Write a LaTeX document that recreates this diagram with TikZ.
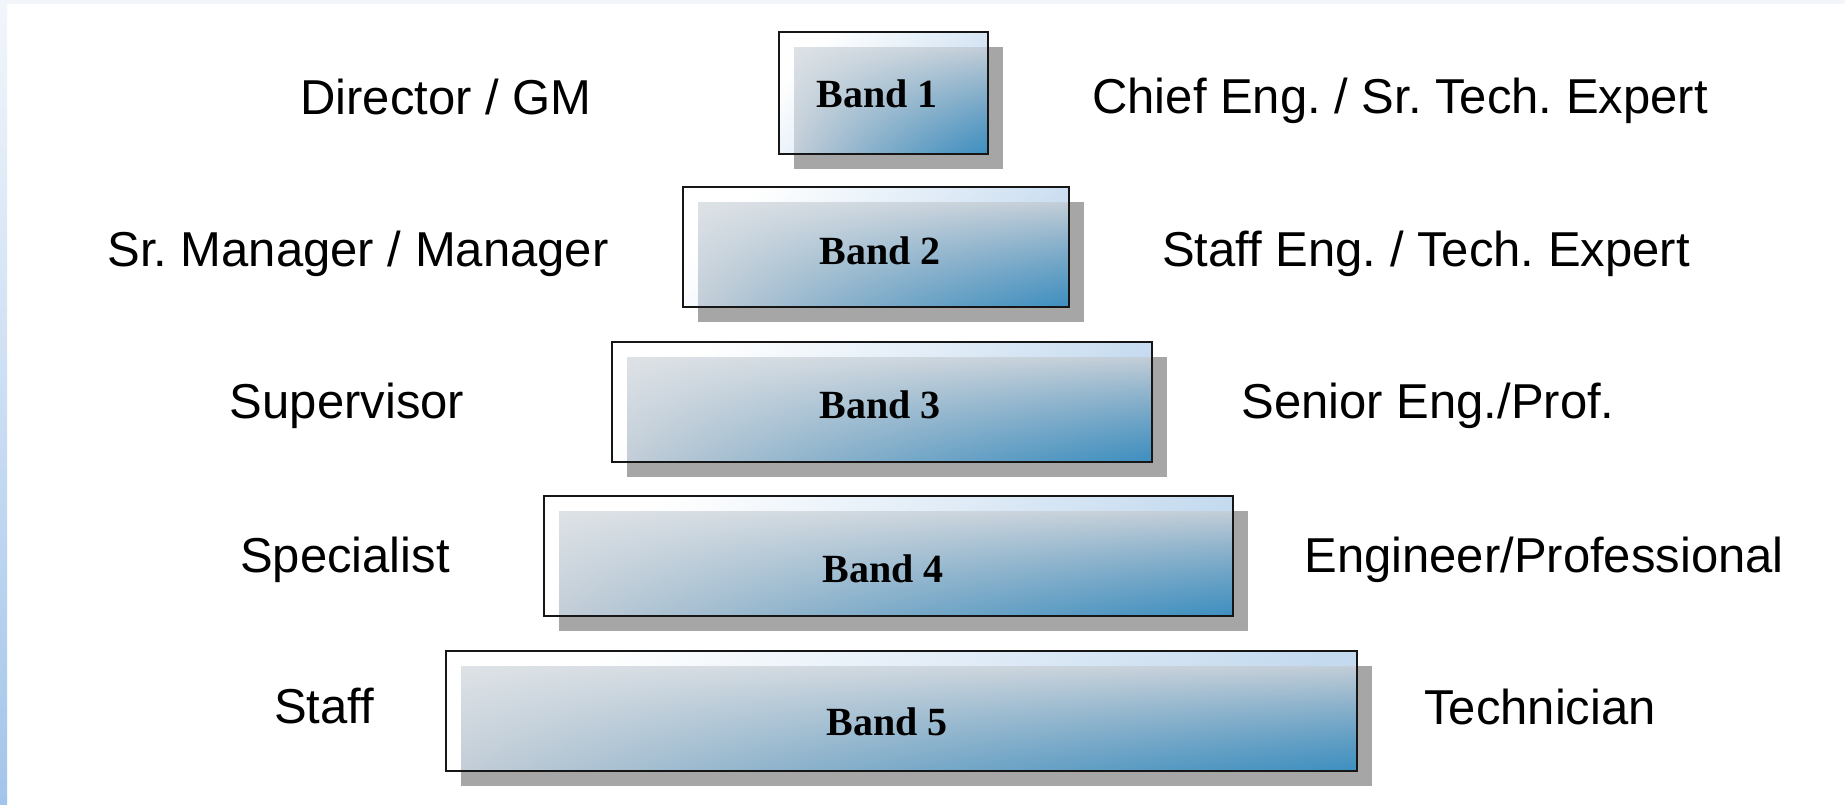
\documentclass[tikz,border=0pt]{standalone}
\usepackage{fontspec}
\setmainfont{Liberation Sans}
\newfontfamily\bandfont{Liberation Serif}
\usetikzlibrary{calc}
\definecolor{shadowgray}{HTML}{A6A6A6}
\definecolor{edgeblack}{HTML}{161616}
\definecolor{outerblue}{HTML}{C4DAEF}
\definecolor{stripTop}{HTML}{F2F6FB}
\definecolor{stripBottom}{HTML}{A3C5EA}
\pgfdeclarefunctionalshading{bandgrad}{\pgfpointorigin}{\pgfpoint{100bp}{100bp}}{}{
  75 exch sub 50 div
  exch 25 sub 50 div
  2 copy mul abs
  3 1 roll add 2 div
  dup -0.208 mul 0.867 add
  2 index 1 index neg 0.239 add mul add
  1 index -0.160 mul 0.886 add
  3 index 1 index neg 0.561 add mul add
  2 index -0.114 mul 0.902 add
  4 index 1 index neg 0.753 add mul add
  5 -2 roll pop pop
}
\frenchspacing
\begin{document}
\begin{tikzpicture}[x=0.5pt,y=-0.5pt,
  bandbox/.style={rectangle, inner sep=0pt, outer sep=0pt, top color=white, bottom color=outerblue, shading angle=45},
  bandinner/.style={shading=bandgrad},
  bandshadow/.style={fill=shadowgray},
  bandedge/.style={draw=edgeblack, line width=1.4pt},
  bandtext/.style={font=\bandfont\bfseries\fontsize{20}{22}\selectfont, inner sep=0pt, anchor=base},
  roletext/.style={font=\fontsize{24.5}{28}\selectfont, inner sep=0pt, anchor=base}]

\useasboundingbox (0,0) rectangle (1845,804);
\fill[white] (0,0) rectangle (1845,804);
\fill[stripTop] (0,0) rectangle (1845,4);
\shade[top color=stripTop, bottom color=stripBottom] (0,0) rectangle (7,804);

\foreach \i/\xa/\ya/\xb/\yb/\tx/\ty in {1/779/32/988/154/877/107, 2/683/187/1069/307/880/264, 3/612/342/1152/462/880/418, 4/544/496/1233/616/883/582, 5/446/651/1357/771/887/735}{
  \pgfmathsetmacro\bw{(\xb-\xa)*0.5}
  \pgfmathsetmacro\bh{(\yb-\ya)*0.5}
  \fill[bandshadow] (\xa+15,\ya+15) rectangle (\xb+15,\yb+15);
  \node[bandbox, minimum width=\bw pt, minimum height=\bh pt, anchor=north west] (b\i) at (\xa,\ya) {};
  \shade[bandinner] ($(b\i.north west)+(15,15)$) rectangle (b\i.south east);
  \draw[bandedge] (b\i.north west) rectangle (b\i.south east);
  \node[bandtext] (t\i) at (\tx,\ty) {Band \i};
}

\node[roletext] (l1) at (446,114) {Director / GM};
\node[roletext] (l2) at (358,266) {Sr. Manager / Manager};
\node[roletext] (l3) at (347,418) {Supervisor};
\node[roletext] (l4) at (345,572) {Specialist};
\node[roletext] (l5) at (324,723) {Staff};
\node[roletext] (r1) at (1400,113) {Chief Eng. / Sr. Tech. Expert};
\node[roletext] (r2) at (1426,266) {Staff Eng. / Tech. Expert};
\node[roletext] (r3) at (1428,418) {Senior Eng./Prof.};
\node[roletext] (r4) at (1544,572) {Engineer/Professional};
\node[roletext] (r5) at (1540,724) {Technician};
\end{tikzpicture}
\end{document}
